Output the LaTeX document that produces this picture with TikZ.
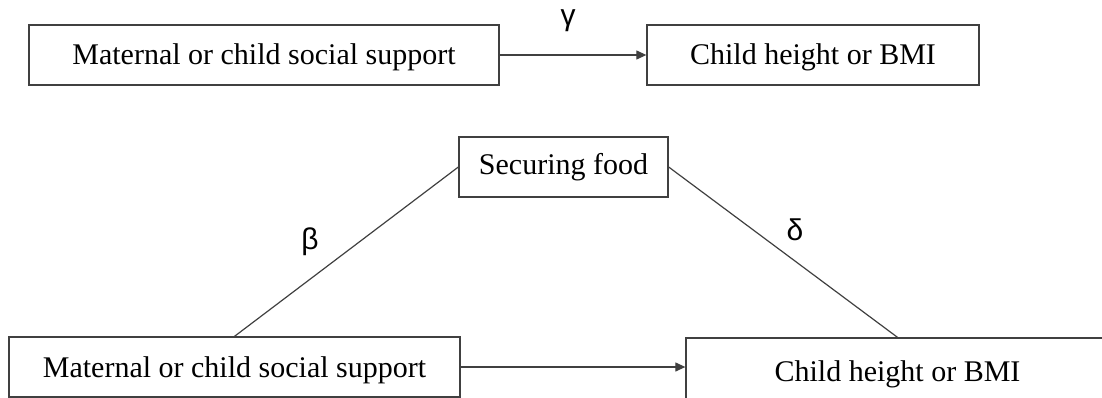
\documentclass[tikz,border=0pt]{standalone}
\usepackage{fontspec}
\setmainfont{Liberation Serif}
\newfontfamily\greekfont{Liberation Sans}
\usetikzlibrary{arrows.meta}
\definecolor{boxline}{HTML}{404040}
\tikzset{
  box/.style={draw=boxline, line width=1.3pt, inner sep=0pt, align=center,
    font=\fontsize{30}{32}\selectfont, text height=24pt, text depth=4pt},
  conn/.style={draw=boxline, line width=1.2pt},
  arr/.style={conn, -{Triangle[length=10pt, width=9pt]}},
  greek/.style={font=\greekfont\fontsize{30}{32}\selectfont, inner sep=0pt}
}
\begin{document}
\begin{tikzpicture}[x=1pt, y=-1pt]
\useasboundingbox (0,0) rectangle (1102,398);
\clip (0,0) rectangle (1102,398);
% top row
\node[box, minimum width=470pt, minimum height=60pt] (tl) at (264,55) {Maternal or child social support};
\node[box, minimum width=332pt, minimum height=60pt] (tr) at (813,55) {Child height or BMI};
\draw[arr] (tl.east) -- (tr.west);
\node[greek] (gamma) at (568,21) {γ};
% bottom
\node[box, minimum width=209pt, minimum height=60pt, text height=22pt, text depth=6pt] (sf) at (563.5,167) {Securing food};
\node[box, minimum width=451pt, minimum height=60pt] (bl) at (234.5,367) {Maternal or child social support};
\node[box, minimum width=423pt, minimum height=66pt] (br) at (897.5,371) {Child height or BMI};
\draw[conn] (sf.west) -- (bl.north);
\draw[conn] (sf.east) -- (br.north);
\draw[arr] (bl.east) -- (bl.east -| br.west);
\node[greek] (beta) at (310,242) {β};
\node[greek] (delta) at (795,230) {δ};
\end{tikzpicture}
\end{document}
